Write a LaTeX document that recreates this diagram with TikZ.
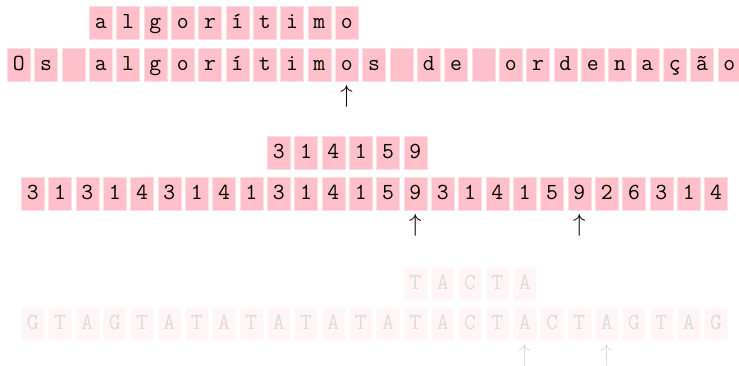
\documentclass[tikz,border=0pt]{standalone}
\usepackage{fontspec}
\definecolor{cellpink}{RGB}{255,192,203}
\begin{document}
\begin{tikzpicture}[x=1pt,y=-1pt,
  cell/.style={fill=cellpink, draw=cellpink!55!white, line width=0.5pt, minimum width=23pt, minimum height=33pt,
    inner sep=0pt, text height=14pt, text depth=2pt, anchor=north west,
    font=\fontsize{23}{27}\selectfont\ttfamily},
  faded/.style={fill=cellpink!16, draw=cellpink!8, text=black!14},
  ptr/.style={inner sep=0pt, anchor=north, font=\fontsize{23}{27}\selectfont},
  fadedptr/.style={text=black!14}]
\useasboundingbox (0,0) rectangle (739,365);
% block 1
\foreach \c [count=\i from 0] in {O,s,{},a,l,g,o,r,í,t,i,m,o,s,{},d,e,{},o,r,d,e,n,a,ç,ã,o}
  \node[cell] (m1-\i) at ({7+27.33*\i},47.5) {\c};
\foreach \c [count=\i from 3] in {a,l,g,o,r,í,t,i,m,o}
  \node[cell] (p1-\i) at ({7+27.33*\i},6) {\c};
\node[ptr] (a1) at ([yshift=-4pt]m1-12.south) {$\uparrow$};
% block 2
\foreach \c [count=\i from 0] in {3,1,3,1,4,3,1,4,1,3,1,4,1,5,9,3,1,4,1,5,9,2,6,3,1,4}
  \node[cell] (m2-\i) at ({21+27.33*\i},177) {\c};
\foreach \c [count=\i from 9] in {3,1,4,1,5,9}
  \node[cell] (p2-\i) at ({21+27.33*\i},136) {\c};
\node[ptr] (a2a) at ([yshift=-4pt]m2-14.south) {$\uparrow$};
\node[ptr] (a2b) at ([yshift=-4pt]m2-20.south) {$\uparrow$};
% block 3 (faded)
\foreach \c [count=\i from 0] in {G,T,A,G,T,A,T,A,T,A,T,A,T,A,T,A,C,T,A,C,T,A,G,T,A,G}
  \node[cell,faded] (m3-\i) at ({21+27.33*\i},307) {\c};
\foreach \c [count=\i from 14] in {T,A,C,T,A}
  \node[cell,faded] (p3-\i) at ({21+27.33*\i},267) {\c};
\node[ptr,fadedptr] (a3a) at ([yshift=-4pt]m3-18.south) {$\uparrow$};
\node[ptr,fadedptr] (a3b) at ([yshift=-4pt]m3-21.south) {$\uparrow$};
\end{tikzpicture}
\end{document}
